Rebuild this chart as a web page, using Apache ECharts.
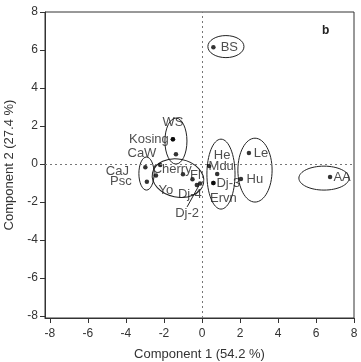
<!DOCTYPE html>
<html>
<head>
<meta charset="utf-8">
<script src="https://cdn.jsdelivr.net/npm/echarts@6/dist/echarts.min.js"></script>
<style>
  html, body { margin: 0; background: #fff; }
  #chart { width: 361px; height: 362px; }
</style>
</head>
<body>
<div id="chart"></div>
<script>
// sample names with their scores on the first two components
const names = ["BS", "WS", "Kosing", "CaW", "CaJ", "Psc", "Cherry", "", "Yo", "Fl", "Dj-4", "Dj-2", "Mdu", "He", "Dj-3", "Ervn", "Le", "Hu", "AA"];
const comp1 = [0.6, -1.53, -1.53, -1.37, -2.98, -2.9, -2.2, -2.42, -1.0, -0.5, -0.27, -0.1, 0.38, 0.8, 0.6, 0.6, 2.47, 2.05, 6.74];
const comp2 = [6.15, 1.3, 1.3, 0.52, -0.17, -0.93, -0.05, -0.6, -0.54, -0.8, -1.1, -1.02, -0.1, -0.53, -1.0, -1.0, 0.58, -0.79, -0.68];

// group ellipses, in score units
const ellCx = [1.26, -1.37, -2.92, -1.26, 1.0, 2.79, 6.42];
const ellCy = [6.18, 1.21, -0.5, -0.74, -0.53, -0.32, -0.74];
const ellRx = [0.95, 0.58, 0.4, 1.37, 0.74, 0.9, 1.32];
const ellRy = [0.58, 1.21, 0.87, 1.0, 1.84, 1.68, 0.63];
const ellTilt = [0, 0, 0, -0.2, 0, 0, 0];

// tick labels
const ticks = [-8, -6, -4, -2, 0, 2, 4, 6, 8];

/** shift of each name's centre away from its dot, px */
const labelShift = {
  BS: [16, 0],
  WS: [0, -17],
  Kosing: [-24, 0],
  CaW: [-34, -1],
  CaJ: [-28, 4],
  Psc: [-26, 0],
  Cherry: [12, 4],
  Yo: [-17, 16],
  Fl: [3, -4],
  "Dj-4": [-7, 9],
  "Dj-2": [-13, 30],
  Mdu: [12, 0],
  He: [5, -19],
  "Dj-3": [15, 0],
  Ervn: [10, 15],
  Le: [12, 0],
  Hu: [14, 0],
  AA: [12, 0],
};

const textColor = "#333";
const font = "Liberation Sans";

const points = names.map((name, i) => {
  const item = {
    name,
    value: [comp1[i], comp2[i]],
    label: { show: !!labelShift[name] },
  };
  if (name === "Dj-2") item.labelLine = { show: true, lineStyle: { color: "#222", width: 1 } };
  return item;
});

const ellipses = ellCx.map((cx, i) => [cx, ellCy[i], ellRx[i], ellRy[i], ellTilt[i]]);

const axisCommon = {
  type: "value",
  splitLine: { show: false },
  axisLine: { show: true, onZero: false, lineStyle: { color: textColor, width: 1 } },
  axisTick: { show: true, length: 5, customValues: ticks, lineStyle: { color: textColor } },
  axisLabel: { customValues: ticks, color: textColor, fontSize: 12, fontFamily: font },
  nameLocation: "middle",
  nameTextStyle: { color: textColor, fontSize: 13, fontFamily: font },
};

const option = {
  animation: false,
  backgroundColor: "#fff",
  grid: {
    left: 45, right: 7, top: 12, bottom: 44,
    outerBoundsMode: "none",
    show: true, borderColor: textColor, borderWidth: 1,
  },
  xAxis: {
    ...axisCommon,
    min: -8.26, max: 8,
    name: "Component 1 (54.2 %)",
    nameGap: 30,
    axisLabel: { ...axisCommon.axisLabel, margin: 10 },
  },
  yAxis: {
    ...axisCommon,
    min: -8.1, max: 8,
    name: "Component 2 (27.4 %)",
    nameGap: 29,
    axisLabel: { ...axisCommon.axisLabel, margin: 7 },
  },
  graphic: [
    {
      type: "text", left: 322, top: 25,
      style: { text: "b", fill: "#222", font: "bold 12px " + font },
    },
  ],
  series: [
    {
      type: "scatter",
      symbolSize: 4.5,
      itemStyle: { color: "#000" },
      data: points,
      label: {
        show: true,
        position: "inside",
        formatter: "{b}",
        color: "#222",
        fontSize: 13,
        fontFamily: font,
      },
      labelLayout: (params) => {
        const shift = labelShift[names[params.dataIndex]] || [0, 0];
        return { dx: shift[0], dy: shift[1] };
      },
      markLine: {
        silent: true,
        symbol: "none",
        label: { show: false },
        lineStyle: { color: "#777", type: [2, 3], width: 1 },
        data: [{ xAxis: 0 }, { yAxis: 0 }],
      },
      z: 3,
    },
    {
      type: "custom",
      silent: true,
      data: ellipses,
      renderItem: (params, api) => {
        const c = api.coord([api.value(0), api.value(1)]);
        const s = api.size([api.value(2), api.value(3)]);
        return {
          type: "ellipse",
          x: c[0], y: c[1],
          rotation: api.value(4),
          shape: { cx: 0, cy: 0, rx: s[0], ry: s[1] },
          style: { fill: "none", stroke: "#222", lineWidth: 1 },
        };
      },
      z: 2,
    },
  ],
};

const chart = echarts.init(document.getElementById("chart"), null, { renderer: "canvas" });
chart.setOption(option);
</script>
</body>
</html>
